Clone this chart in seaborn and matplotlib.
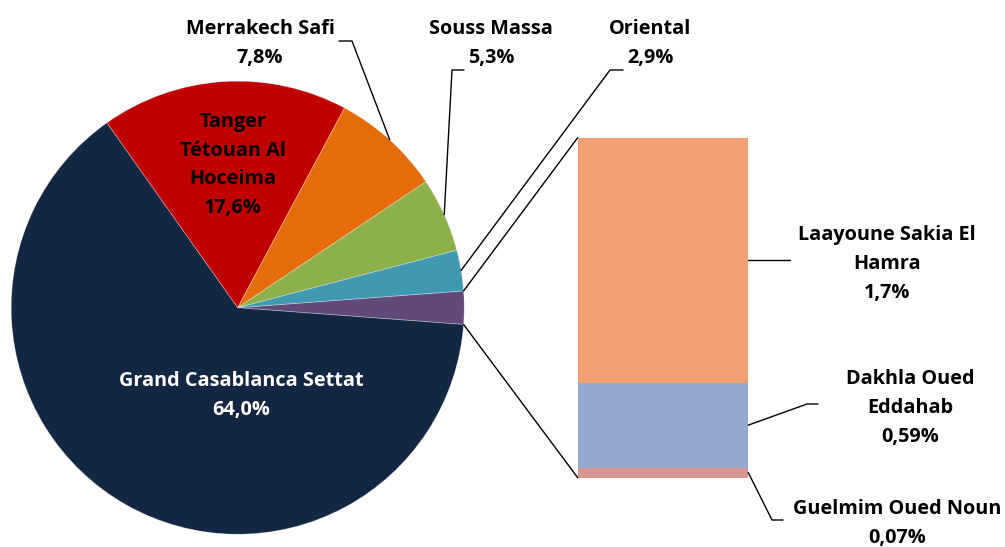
import numpy as np
import matplotlib
matplotlib.use("Agg")
import matplotlib.pyplot as plt
from matplotlib.patches import ConnectionPatch
import seaborn as sns

# ---------------- data ----------------
pie_labels = ["Grand Casablanca Settat", "Tanger\nTétouan Al\nHoceima", "Merrakech Safi",
              "Souss Massa", "Oriental"]
pie_values = [64.0, 17.6, 7.8, 5.3, 2.9]
pie_value_txt = ["64,0%", "17,6%", "7,8%", "5,3%", "2,9%"]

bar_labels = ["Laayoune Sakia El\nHamra", "Dakhla Oued\nEddahab", "Guelmim Oued Noun"]
bar_values = [1.7, 0.59, 0.07]
bar_value_txt = ["1,7%", "0,59%", "0,07%"]

pie_colors = ["#132742", "#C00000", "#E46C0A", "#8EB04B", "#4199B0"]
other_color = "#604A7B"
bar_colors = ["#F2A072", "#95A9CF", "#D99594"]

# ---------------- style ----------------
sns.set_style("white")
plt.rcParams["font.family"] = ["Open Sans", "DejaVu Sans"]

W, H = 1005, 547
fig = plt.figure(figsize=(W / 100, H / 100), dpi=100)

# pie axes (centre and radius in pixels)
cx, cy, r = 237.7, 307.7, 226.5
ax_pie = fig.add_axes([(cx - r) / W, (H - cy - r) / H, 2 * r / W, 2 * r / H])

other_total = sum(bar_values)
vals = [other_total] + pie_values
cols = [other_color] + pie_colors
start = other_total / sum(vals) * 360 / 2
wedges, _ = ax_pie.pie(vals, colors=cols, startangle=start, counterclock=False,
                       radius=1, wedgeprops=dict(linewidth=0.6, edgecolor="#ffffff55"))
ax_pie.set_xlim(-1, 1)
ax_pie.set_ylim(-1, 1)
ax_pie.set_aspect("equal")
ax_pie.axis("off")

# bar axes
bx0, bx1, by0, by1 = 577.7, 748.3, 137.7, 477.7
ax_bar = fig.add_axes([bx0 / W, (H - by1) / H, (bx1 - bx0) / W, (by1 - by0) / H])
bottoms = np.concatenate([[0], np.cumsum(bar_values[::-1])[:-1]])[::-1]
for v, b, c in zip(bar_values, bottoms, bar_colors):
    sns.barplot(x=[0], y=[v], bottom=b, color=c, width=1, ax=ax_bar,
                saturation=1, linewidth=0)
ax_bar.set_xlim(-0.5, 0.5)
ax_bar.set_ylim(0, other_total)
ax_bar.axis("off")

# overlay axes in pixel coordinates
ov = fig.add_axes([0, 0, 1, 1])
ov.set_xlim(0, W)
ov.set_ylim(H, 0)
ov.axis("off")
ov.patch.set_alpha(0)

def to_px(ax, x, y):
    dx, dy = ax.transData.transform((x, y))
    return dx, H - dy

fs = 14.3
tkw = dict(fontsize=fs, fontweight="bold", ha="center", va="center", linespacing=1.6)

# connector lines pie -> bar
other_w = wedges[0]
for ang, yb in [(other_w.theta2, other_total), (other_w.theta1, 0)]:
    a = np.deg2rad(ang)
    con = ConnectionPatch(xyA=(np.cos(a), np.sin(a)), coordsA=ax_pie.transData,
                          xyB=(-0.5, yb), coordsB=ax_bar.transData,
                          color="black", lw=1)
    fig.add_artist(con)

# pie labels inside
ov.text(241, 396, f"{pie_labels[0]}\n{pie_value_txt[0]}", color="white", **tkw)
ov.text(233, 165, f"{pie_labels[1]}\n{pie_value_txt[1]}", color="black", **tkw)

# outside labels with leaders
outside = [(260, 44, 339, 352, 41), (491, 44, 464, 452, 70), (650, 44, 623, 610, 70)]
for i, (tx, ty, lx0, lx1, ly) in zip([2, 3, 4], outside):
    w = wedges[i + 1]
    mid = np.deg2rad((w.theta1 + w.theta2) / 2)
    px, py = to_px(ax_pie, np.cos(mid), np.sin(mid))
    ov.text(tx, ty, f"{pie_labels[i]}\n{pie_value_txt[i]}", color="black", **tkw)
    ov.plot([lx0, lx1, px], [ly, ly, py], color="black", lw=1)

# bar labels with leaders
bar_txt_pos = [(887, 264), (910, 408), (897, 524)]
bar_leader = [None, (807, 404, 818), (772, 520, 783)]
for k in range(3):
    mid = bottoms[k] + bar_values[k] / 2
    px, py = to_px(ax_bar, 0.5, mid)
    tx, ty = bar_txt_pos[k]
    ov.text(tx, ty, f"{bar_labels[k]}\n{bar_value_txt[k]}", color="black", **tkw)
    if bar_leader[k] is None:
        ov.plot([px, 790], [py, py], color="black", lw=1)
    else:
        ex, ey, ex2 = bar_leader[k]
        ov.plot([px, ex, ex2], [py, ey, ey], color="black", lw=1)

fig.savefig("out.png", dpi=100)
